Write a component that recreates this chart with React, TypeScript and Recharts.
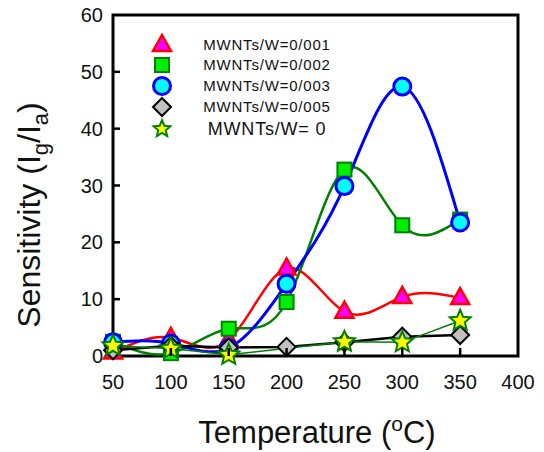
import { ComposedChart, Line, XAxis, YAxis, ReferenceArea } from 'recharts'

const temps = [50, 100, 150, 200, 250, 300, 350]
const mw001 = [0.6, 3.2, 2.8, 15.4, 7.8, 10.4, 10.2]
const mw002 = [2.5, 0.5, 4.8, 9.5, 32.8, 23.0, 24.0]
const mw003 = [2.4, 2.2, 1.4, 12.7, 29.9, 47.4, 23.5]
const mw005 = [1.0, 1.8, 1.5, 1.6, 2.4, 3.4, 3.7]
const mw0 = [1.8, 1.3, 0.2, null, 2.5, 2.4, 6.2]

const xTicks = [50, 100, 150, 200, 250, 300, 350, 400]
const yTicks = [0, 10, 20, 30, 40, 50, 60]

const data = temps.map((t, i) => ({
    t, a: mw001[i], b: mw002[i], c: mw003[i], d: mw005[i], e: mw0[i],
}))

const FONT = '"Liberation Sans", Arial, sans-serif'

function starPath(cx: number, cy: number, ro: number, ri: number) {
    let d = ''
    for (let k = 0; k < 10; k++) {
        const r = k % 2 === 0 ? ro : ri
        const ang = -Math.PI / 2 + (k * Math.PI) / 5
        d += (k === 0 ? 'M' : 'L') + (cx + r * Math.cos(ang)).toFixed(2) + ',' + (cy + r * Math.sin(ang)).toFixed(2)
    }
    return d + 'Z'
}

const Tri = ({ cx, cy, s = 1 }: any) => (
    <path d={`M${cx},${cy - 10 * s}L${cx + 9 * s},${cy + 6 * s}L${cx - 9 * s},${cy + 6 * s}Z`} fill="#ff00ff" stroke="#ff0000" strokeWidth={2.5} strokeLinejoin="miter" />
)
const Sq = ({ cx, cy, s = 1 }: any) => (
    <rect x={cx - 7 * s} y={cy - 7 * s} width={14 * s} height={14 * s} fill="#00ee00" stroke="#008000" strokeWidth={2} />
)
const Circ = ({ cx, cy, s = 1 }: any) => (
    <circle cx={cx} cy={cy} r={8.5 * s} fill="#00ffff" stroke="#0000ff" strokeWidth={3} />
)
const Dia = ({ cx, cy, s = 1 }: any) => (
    <path d={`M${cx},${cy - 9 * s}L${cx + 9 * s},${cy}L${cx},${cy + 9 * s}L${cx - 9 * s},${cy}Z`} fill="#c0c0c0" stroke="#000" strokeWidth={2} />
)
const Star = ({ cx, cy, s = 1 }: any) => (
    <path d={starPath(cx, cy, 11 * s, 5 * s)} fill="#ffff00" stroke="#008000" strokeWidth={2} strokeLinejoin="miter" />
)

function dotOf(Shape: any) {
    return (p: any) => {
        if (p.cx == null || p.cy == null || p.value == null) return <g key={p.index} />
        return <Shape key={p.index} cx={p.cx} cy={p.cy} />
    }
}

const YTick = ({ x, y, payload }: any) => (
    <g>
        {payload.value !== 0 && payload.value !== 60 && (
            <line x1={x} x2={x + 7} y1={y} y2={y} stroke="#000" strokeWidth={2.5} />
        )}
        <text x={x - 10} y={y} dy={7} textAnchor="end" fontSize={20} fontFamily={FONT} fill="#111">{payload.value}</text>
    </g>
)

const XTick = ({ x, y, payload }: any) => (
    <g>
        {payload.value !== 50 && payload.value !== 400 && (
            <line x1={x} x2={x} y1={y} y2={y - 8} stroke="#000" strokeWidth={2.5} />
        )}
        <text x={x} y={y + 33} textAnchor="middle" fontSize={20} fontFamily={FONT} fill="#111">{payload.value}</text>
    </g>
)

const legendRows = [
    { label: 'MWNTs/W=0/001', Shape: Tri, y: 45, fs: 15 },
    { label: 'MWNTs/W=0/002', Shape: Sq, y: 65, fs: 15 },
    { label: 'MWNTs/W=0/003', Shape: Circ, y: 86, fs: 15 },
    { label: 'MWNTs/W=0/005', Shape: Dia, y: 107, fs: 15 },
    { label: 'MWNTs/W= 0', Shape: Star, y: 129, fs: 18 },
]

export default function App() {
    return (
        <div style={{ position: 'absolute', left: 0, top: 0, width: 544, height: 452, background: '#fff' }}>
            <ComposedChart width={544} height={452} data={data} margin={{ top: 15, right: 26, bottom: 66, left: 63 }}>
                <ReferenceArea x1={50} x2={400} y1={0} y2={60} fill="none" stroke="#000" strokeWidth={3} ifOverflow="visible" />
                <XAxis dataKey="t" type="number" domain={[50, 400]} ticks={xTicks} height={30}
                    axisLine={false} tickLine={false} tickSize={0} tickMargin={0} tick={<XTick />} interval={0} />
                <YAxis type="number" domain={[0, 60]} ticks={yTicks} width={50}
                    axisLine={false} tickLine={false} tickSize={0} tickMargin={0} tick={<YTick />} interval={0} />
                <Line type="natural" dataKey="a" stroke="#ff0000" strokeWidth={2.5} dot={dotOf(Tri)} isAnimationActive={false} />
                <Line type="natural" dataKey="b" stroke="#008000" strokeWidth={2.5} dot={dotOf(Sq)} isAnimationActive={false} />
                <Line type="natural" dataKey="c" stroke="#0000ff" strokeWidth={3} dot={dotOf(Circ)} isAnimationActive={false} />
                <Line type="linear" dataKey="d" stroke="#000" strokeWidth={2.5} dot={dotOf(Dia)} isAnimationActive={false} />
                <Line type="linear" dataKey="e" stroke="#008000" strokeWidth={1.5} dot={dotOf(Star)} connectNulls isAnimationActive={false} />
            </ComposedChart>
            <svg width={544} height={452} style={{ position: 'absolute', left: 0, top: 0, pointerEvents: 'none' }}>
                {legendRows.map((r) => (
                    <g key={r.label}>
                        <r.Shape cx={162} cy={r.y} s={r.Shape === Star ? 0.8 : 1} />
                        <text x={267} y={r.y} dy={r.fs * 0.36} textAnchor="middle" fontSize={r.fs} fontFamily={FONT} letterSpacing={0.8} fill="#111">{r.label}</text>
                    </g>
                ))}
                <text transform="translate(40,215) rotate(-90)" textAnchor="middle" fontSize={32} fontFamily={FONT} fill="#111">
                    Sensitivity (I<tspan fontSize={22} dy={8}>g</tspan><tspan dy={-8}>/I</tspan><tspan fontSize={22} dy={8}>a</tspan><tspan dy={-8}>)</tspan>
                </text>
                <text x={317} y={443} textAnchor="middle" fontSize={31} fontFamily={FONT} fill="#111">
                    Temperature (<tspan fontSize={21} dy={-12}>o</tspan><tspan dy={12}>C)</tspan>
                </text>
            </svg>
        </div>
    )
}
